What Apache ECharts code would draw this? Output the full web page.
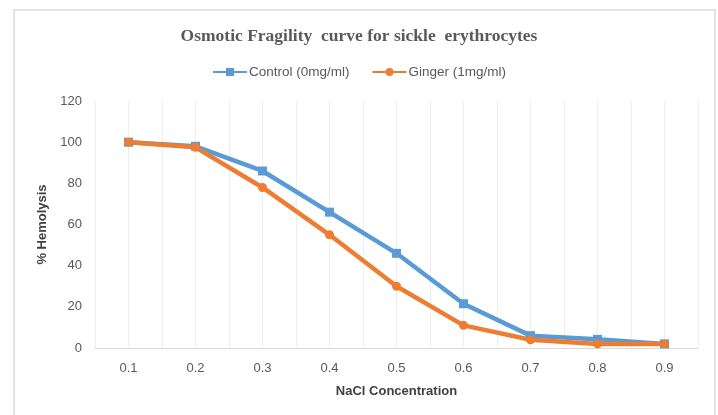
<!DOCTYPE html>
<html>
<head>
<meta charset="utf-8">
<script src="https://cdn.jsdelivr.net/npm/echarts@6/dist/echarts.min.js"></script>
<style>
  html, body { margin: 0; padding: 0; background: #fff; }
  #chart { width: 718px; height: 415px; }
</style>
</head>
<body>
<div id="chart"></div>
<script>
// NaCl concentration (x) and % hemolysis
const concentrations = [0.1, 0.2, 0.3, 0.4, 0.5, 0.6, 0.7, 0.8, 0.9];
const controlValues = [100, 98, 86, 66, 46, 21.5, 6, 4.2, 2];
const gingerValues = [100, 97.5, 78, 55, 30, 11, 4, 2, 2];
const seriesNames = ['Control (0mg/ml)', 'Ginger (1mg/ml)'];

const chart = echarts.init(document.getElementById('chart'));

const toPairs = vals => concentrations.map((c, i) => [c, vals[i]]);

const option = {
  animation: false,
  backgroundColor: '#fff',
  title: {
    text: 'Osmotic Fragility  curve for sickle  erythrocytes',
    left: 'center',
    top: 22,
    textStyle: {
      fontFamily: 'Liberation Serif',
      fontSize: 17.5,
      fontWeight: 'bold',
      color: '#595959'
    }
  },
  legend: {
    top: 60,
    left: 'center',
    itemWidth: 34,
    itemHeight: 10,
    itemGap: 22,
    textStyle: { fontFamily: 'Liberation Sans', fontSize: 13.5, color: '#595959', padding: [0, 0, 0, -3] },
    data: seriesNames
  },
  grid: { left: 95, right: 20, top: 101, bottom: 67 },
  xAxis: {
    type: 'value',
    min: 0.05,
    max: 0.95,
    interval: 0.05,
    name: 'NaCl Concentration',
    nameLocation: 'middle',
    nameGap: 37,
    nameTextStyle: { fontFamily: 'Liberation Sans', fontSize: 13, fontWeight: 'bold', color: '#404040' },
    axisLine: { lineStyle: { color: '#d9d9d9', width: 1 } },
    axisTick: { show: false },
    axisLabel: {
      fontFamily: 'Liberation Sans',
      fontSize: 13,
      color: '#595959',
      margin: 14,
      formatter: v => {
        const k = Math.round(v * 100);
        return (k % 10 === 0 && k >= 10 && k <= 90) ? (k / 100).toFixed(1) : '';
      }
    },
    splitLine: { show: true, lineStyle: { color: '#eeeeee', width: 1 } }
  },
  yAxis: {
    type: 'value',
    min: 0,
    max: 120,
    interval: 20,
    name: '% Hemolysis',
    nameLocation: 'middle',
    nameGap: 40,
    nameTextStyle: { fontFamily: 'Liberation Sans', fontSize: 13, fontWeight: 'bold', color: '#404040' },
    axisLine: { show: false },
    axisTick: { show: false },
    axisLabel: { fontFamily: 'Liberation Sans', fontSize: 13, color: '#595959', margin: 13 },
    splitLine: { show: false }
  },
  series: [
    {
      name: seriesNames[0],
      type: 'line',
      data: toPairs(controlValues),
      symbol: 'rect',
      symbolSize: 9,
      lineStyle: { width: 4.5, color: '#5B9BD5' },
      itemStyle: { color: '#5B9BD5' }
    },
    {
      name: seriesNames[1],
      type: 'line',
      data: toPairs(gingerValues),
      symbol: 'circle',
      symbolSize: 9,
      lineStyle: { width: 4.5, color: '#ED7D31' },
      itemStyle: { color: '#ED7D31' }
    }
  ],
  graphic: [
    {
      type: 'rect',
      shape: { x: 14, y: 10, width: 701, height: 420 },
      style: { fill: 'none', stroke: '#d9d9d9', lineWidth: 1.5 },
      silent: true
    }
  ]
};

chart.setOption(option);
</script>
</body>
</html>
